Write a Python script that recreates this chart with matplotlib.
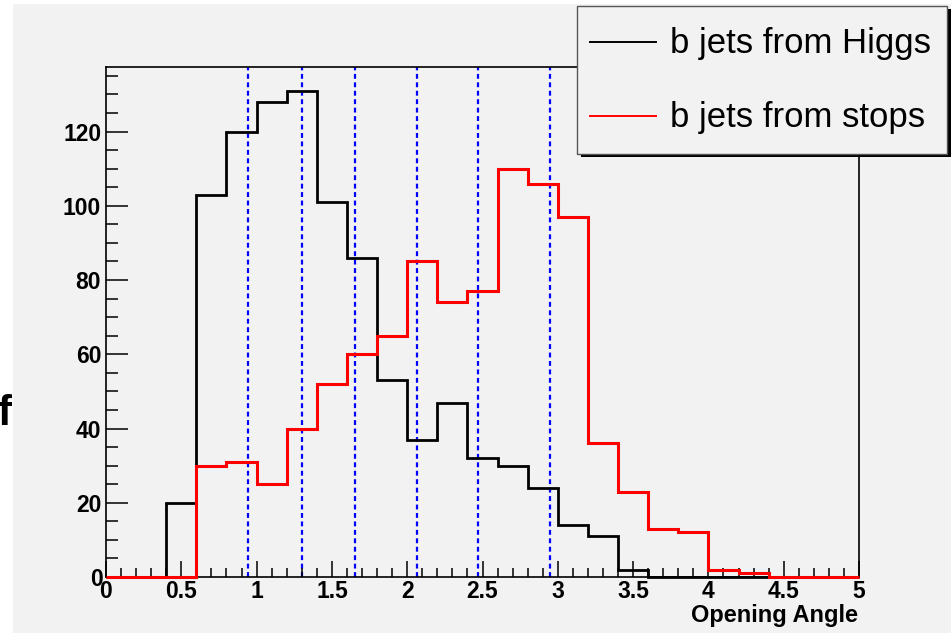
import matplotlib
matplotlib.use("Agg")
import matplotlib.pyplot as plt
from matplotlib.patches import Rectangle
from matplotlib.lines import Line2D
import numpy as np

plt.rcParams['font.family'] = ['Liberation Sans', 'DejaVu Sans']

# histogram data, 25 bins of width 0.2 from 0 to 5
edges = np.linspace(0, 5, 26)
higgs = [0, 0, 20, 103, 120, 128, 131, 101, 86, 53, 37, 47, 32, 30, 24,
         14, 11, 2, 0, 0, 0, 0, 0, 0, 0]
stops = [0, 0, 0, 30, 31, 25, 40, 52, 60, 65, 85, 74, 77, 110, 106, 97,
         36, 23, 13, 12, 2, 1, 0, 0, 0]
cuts = [0.945, 1.30, 1.655, 2.065, 2.47, 2.95]
labels = ["b jets from Higgs", "b jets from stops"]
colors = ["black", "red"]
xticks = [0, 0.5, 1, 1.5, 2, 2.5, 3, 3.5, 4, 4.5, 5]
xticklabels = ["0", "0.5", "1", "1.5", "2", "2.5", "3", "3.5", "4", "4.5", "5"]
yticks = [0, 20, 40, 60, 80, 100, 120]

W, H = 953, 634
bg = "#f2f2f2"
fig = plt.figure(figsize=(W / 100, H / 100), dpi=100, facecolor="white")
fig.add_artist(Rectangle((13 / W, 1 - 633 / H), (951 - 13) / W, (633 - 4) / H,
                         transform=fig.transFigure, facecolor=bg,
                         edgecolor="none", zorder=0))

ax = fig.add_axes([106 / W, 1 - 577 / H, (859 - 106) / W, (577 - 67) / H])
ax.set_facecolor(bg)

for x in cuts:
    ax.axvline(x, color="blue", lw=1.6, ls=(0, (2.2, 1.6)), zorder=1)

ax.stairs(higgs, edges, color=colors[0], lw=2.0, clip_on=False, zorder=3)
ax.stairs(stops, edges, color=colors[1], lw=2.2, clip_on=False, zorder=4)

ax.set_xlim(0, 5)
ax.set_ylim(0, 137.4)
for s in ax.spines.values():
    s.set_linewidth(1.2)

ax.set_xticks(xticks)
ax.set_xticklabels(xticklabels)
ax.set_xticks(np.arange(0, 5.01, 0.1), minor=True)
ax.set_yticks(yticks)
ax.set_yticklabels([""] + [str(v) for v in yticks[1:]])
ax.set_yticks(np.arange(0, 137, 5), minor=True)
ax.tick_params(axis="x", which="major", direction="in", length=11.5, width=1.1,
               pad=2.5, labelsize=16.5)
ax.tick_params(axis="x", which="minor", direction="in", length=6.2, width=1.1)
ax.tick_params(axis="y", which="major", direction="in", length=15.8, width=1.1,
               pad=3.5, labelsize=16.5)
ax.tick_params(axis="y", which="minor", direction="in", length=8.6, width=1.1)
for lab in ax.get_xticklabels() + ax.get_yticklabels():
    lab.set_fontweight("bold")

# y "0" label sits a bit higher and left than x "0"
fig.text(103 / W, 1 - 579 / H, "0", ha="right", va="center", fontsize=16.5,
         fontweight="bold")

fig.text(858 / W, 1 - 622 / H, "Opening Angle", ha="right", va="baseline",
         fontsize=17, fontweight="bold")

fig.text(11 / W, 1 - 414 / H, "f", ha="right", va="center", fontsize=30,
         fontweight="bold")

# legend box with drop shadow
lx0, lx1, ly0, ly1 = 577, 947, 6, 154
fig.add_artist(Rectangle(((lx0 + 4) / W, 1 - (ly1 + 3) / H), (lx1 - lx0) / W,
                         (ly1 - ly0) / H, transform=fig.transFigure,
                         facecolor="black", edgecolor="none", zorder=10))
fig.add_artist(Rectangle((lx0 / W, 1 - ly1 / H), (lx1 - lx0) / W, (ly1 - ly0) / H,
                         transform=fig.transFigure, facecolor=bg,
                         edgecolor="#555555", lw=1.0, zorder=11))
for i, (lab, c) in enumerate(zip(labels, colors)):
    yy = 1 - (42 + 74 * i) / H
    fig.add_artist(Line2D([590 / W, 656 / W], [yy, yy], color=c, lw=1.4,
                          transform=fig.transFigure, zorder=12))
    fig.text(670 / W, 1 - (53 + 74 * i) / H, lab, ha="left", va="baseline",
             fontsize=25, zorder=12)

fig.savefig("out.png", dpi=100, facecolor="white")
